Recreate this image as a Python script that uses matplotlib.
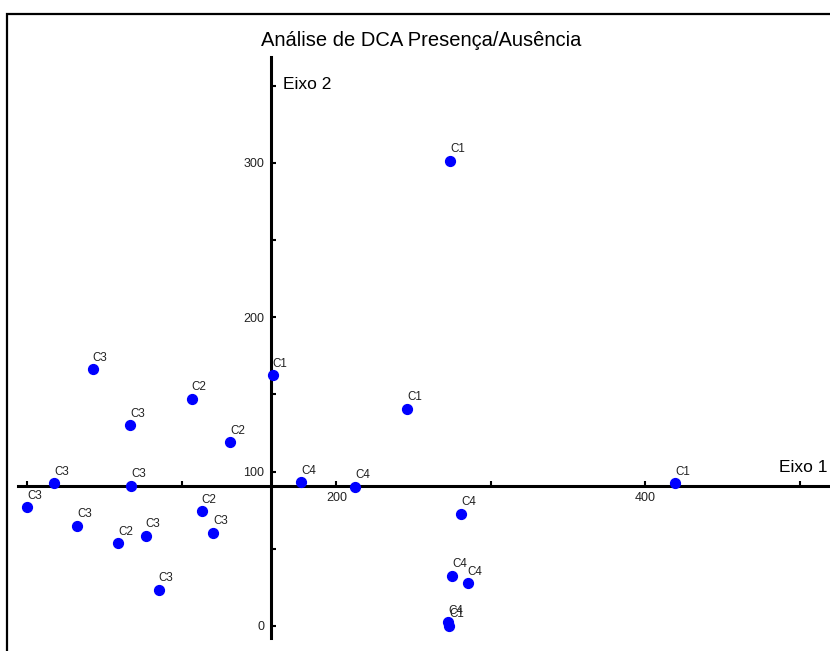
import numpy as np
import matplotlib
matplotlib.use("Agg")
import matplotlib.pyplot as plt
from matplotlib.patches import Rectangle

plt.rcParams['font.family'] = ['Liberation Sans', 'DejaVu Sans']

# site scores
groups = ['C1', 'C3', 'C1', 'C2', 'C1', 'C3', 'C2', 'C4', 'C4', 'C1', 'C3', 'C3',
          'C3', 'C2', 'C3', 'C3', 'C4', 'C3', 'C2', 'C3', 'C4', 'C4', 'C4', 'C1']
eixo1 = [273.6, 42.3, 158.8, 106.4, 245.8, 66.5, 131.4, 177.3, 212.1, 419.2, 17.5, 67.1,
         0.0, 112.9, 32.2, 120.2, 280.7, 76.6, 58.7, 85.0, 275.1, 285.0, 272.5, 273.1]
eixo2 = [301.2, 166.3, 162.4, 147.0, 140.7, 130.0, 119.0, 93.1, 90.0, 92.4, 92.4, 90.9,
         76.9, 74.3, 64.8, 60.4, 72.5, 58.5, 53.6, 23.5, 32.4, 27.7, 2.4, 0.0]

xticks = [0, 100, 200, 300, 400, 500]
xlabels = ['', '', '200', '', '400', '']
yticks = [0, 50, 100, 150, 200, 250, 300, 350]
ylabels = ['0', '', '100', '', '200', '', '300', '']

# axes cross at the centroid
cx = np.mean(eixo1)
cy = np.mean(eixo2)

fig = plt.figure(figsize=(8.3, 6.51), dpi=100)
ax = fig.add_axes([0, 0, 1, 1])
ax.set_xlim(-17.67, 519.5)
ax.set_ylim(-16.2, 405.4)

for s in ['top', 'right']:
    ax.spines[s].set_visible(False)
ax.spines['left'].set_position(('data', cx))
ax.spines['bottom'].set_position(('data', cy))
ax.spines['left'].set_bounds(-7.8, 368.5)
ax.spines['bottom'].set_bounds(-6.0, 519.5)
for s in ['left', 'bottom']:
    ax.spines[s].set_linewidth(2.2)

ax.set_xticks(xticks)
ax.set_xticklabels(xlabels)
ax.set_yticks(yticks)
ax.set_yticklabels(ylabels)
ax.tick_params(direction='in', length=3.6, width=1.5, labelsize=9,
               labelcolor='#222222')
ax.tick_params(axis='x', pad=4)
ax.tick_params(axis='y', pad=5)

ax.scatter(eixo1, eixo2, s=50, color='#0000ff', zorder=3, clip_on=False)
for g, x, y in zip(groups, eixo1, eixo2):
    ax.annotate(g, (x, y), xytext=(0, 6.2), textcoords='offset points',
                ha='left', va='baseline', fontsize=8.4, color='#222222')

ax.text(cx + 7.5, 350.4, 'Eixo 2', ha='left', va='center', fontsize=12.5)
ax.text(517.6, cy + 12, 'Eixo 1', ha='right', va='center', fontsize=12.5)

fig.text(0.507, 1 - 40 / 651, 'Análise de DCA Presença/Ausência',
         ha='center', va='center', fontsize=14.5)

# outer frame (cut off at right and bottom)
fig.patches.append(Rectangle((7 / 830, -0.1), 1.2, 1.1 - 14 / 651,
                             transform=fig.transFigure, fill=False,
                             edgecolor='black', linewidth=1.6))

fig.savefig('out.png', dpi=100)
